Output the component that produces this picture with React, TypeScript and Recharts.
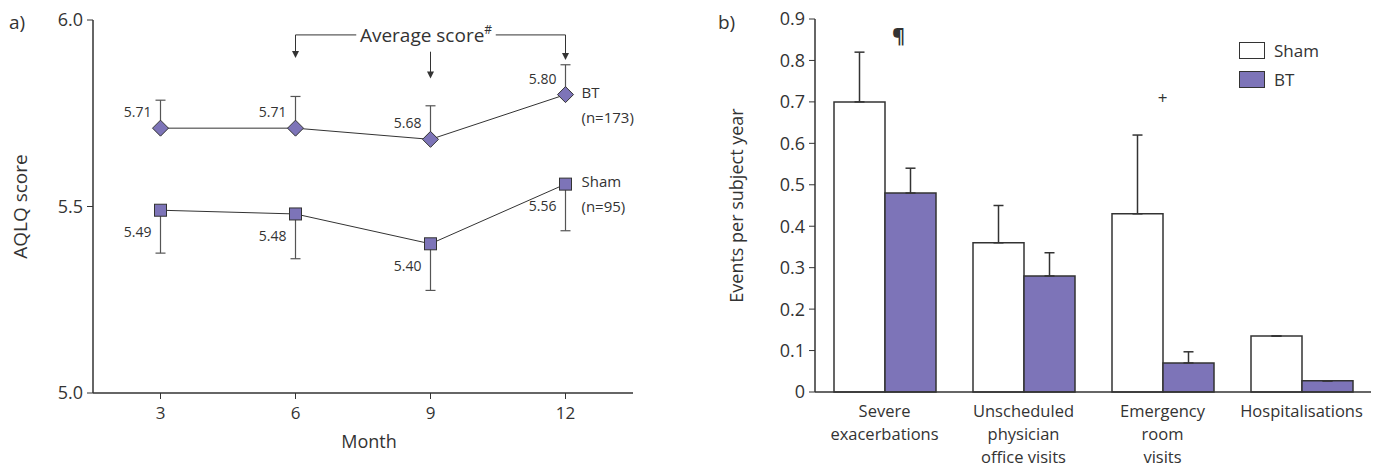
import React from 'react';
import {
  ComposedChart,
  BarChart,
  Line,
  Bar,
  XAxis,
  YAxis,
  ErrorBar,
  LabelList,
  Legend,
  ReferenceLine,
  ReferenceDot,
} from 'recharts';

// panel a) AQLQ score by month
const months = [3, 6, 9, 12];
const btScores = [5.71, 5.71, 5.68, 5.8];
const btErrUp = [0.075, 0.085, 0.09, 0.08];
const shamScores = [5.49, 5.48, 5.4, 5.56];
const shamErrDown = [0.115, 0.12, 0.125, 0.125];
const scoreTicks = [5, 5.5, 6];

// panel b) events per subject year
const categories = ['Severe exacerbations', 'Unscheduled physician office visits', 'Emergency room visits', 'Hospitalisations'];
const categoryLines = [['Severe', 'exacerbations'], ['Unscheduled', 'physician', 'office visits'], ['Emergency', 'room', 'visits'], ['Hospitalisations']];
const shamRates = [0.7, 0.36, 0.43, 0.135];
const shamRateErr = [0.12, 0.09, 0.19, 0];
const btRates = [0.48, 0.28, 0.07, 0.027];
const btRateErr = [0.06, 0.056, 0.027, 0];
const rateTicks = [0, 0.1, 0.2, 0.3, 0.4, 0.5, 0.6, 0.7, 0.8, 0.9];

const PURPLE = '#7d74b8';
const INK = '#333';
const FONT = '"Open Sans", sans-serif';

const lineData = months.map((m, i) => ({
  month: m,
  bt: btScores[i],
  btErr: [0, btErrUp[i]],
  sham: shamScores[i],
  shamErr: [shamErrDown[i], 0],
}));

const barData = categories.map((c, i) => ({
  cat: c,
  sham: shamRates[i],
  shamErr: [0, shamRateErr[i]],
  bt: btRates[i],
  btErr: [0, btRateErr[i]],
}));

const Diamond = (p: any) => {
  const { cx, cy } = p;
  if (cx == null || cy == null) return null;
  return (
    <path
      key={`d-${p.index}`}
      d={`M${cx},${cy - 8}L${cx + 8},${cy}L${cx},${cy + 8}L${cx - 8},${cy}Z`}
      fill={PURPLE}
      stroke={INK}
      strokeWidth={1}
    />
  );
};

const Square = (p: any) => {
  const { cx, cy } = p;
  if (cx == null || cy == null) return null;
  return <rect key={`s-${p.index}`} x={cx - 6} y={cy - 6} width={12} height={12} fill={PURPLE} stroke={INK} strokeWidth={1} />;
};

const ArrowHead = (p: any) => (
  <path d={`M${p.cx - 3.5},${p.cy - 7}L${p.cx + 3.5},${p.cy - 7}L${p.cx},${p.cy}Z`} fill={INK} />
);

const valueLabel = (below: boolean) => (p: any) => {
  const { x, y, value } = p;
  return (
    <text x={x - 9} y={below ? y + 27 : y - 11} textAnchor="end" fontSize={14} fill={INK} fontFamily={FONT}>
      {Number(value).toFixed(2)}
    </text>
  );
};

const seriesLabel = (name: string, n: string) => (p: any) => {
  if (p.index !== months.length - 1) return null;
  return (
    <text x={p.x + 16} y={p.y - 2} fontSize={15} fill={INK} fontFamily={FONT}>
      <tspan x={p.x + 16} dy="0.35em">{name}</tspan>
      <tspan x={p.x + 16} dy={25}>{n}</tspan>
    </text>
  );
};

const CategoryTick = (p: any) => {
  const lines = categoryLines[p.index] || [p.payload.value];
  return (
    <text x={p.x} y={p.y} textAnchor="middle" fontSize={16.5} fill={INK} fontFamily={FONT}>
      {lines.map((l, i) => (
        <tspan key={i} x={p.x} dy={i === 0 ? 17 : 23}>{l}</tspan>
      ))}
    </text>
  );
};

const LegendBox = () => (
  <div style={{ fontFamily: FONT, fontSize: 17, color: INK }}>
    {[['Sham', '#fff'], ['BT', PURPLE]].map(([name, fill]) => (
      <div key={name} style={{ display: 'flex', alignItems: 'center', height: 29 }}>
        <span style={{ display: 'inline-block', width: 24, height: 15, background: fill, border: `1.5px solid ${INK}`, marginRight: 9 }} />
        {name}
      </div>
    ))}
  </div>
);

export default function App() {
  return (
    <div style={{ position: 'absolute', left: 0, top: 0, width: 1375, height: 470, background: '#fff', fontFamily: FONT }}>
      <span style={{ position: 'absolute', left: 9, top: 9, fontSize: 19, color: INK }}>a)</span>
      <span style={{ position: 'absolute', left: 718, top: 9, fontSize: 19, color: INK }}>b)</span>

      <div style={{ position: 'absolute', left: 0, top: 0 }}>
        <ComposedChart width={680} height={470} data={lineData} margin={{ top: 20, right: 47, bottom: 22, left: 0 }}>
          <XAxis
            type="number"
            dataKey="month"
            domain={[1.5, 13.5]}
            ticks={months}
            allowDataOverflow
            height={55}
            tickSize={6}
            tickMargin={8}
            stroke={INK}
            axisLine={{ stroke: INK, strokeWidth: 1.5 }}
            tick={{ fill: INK, fontSize: 17 }}
            label={{ value: 'Month', position: 'insideBottom', offset: 0, dx: 6, fill: INK, fontSize: 18 }}
          />
          <YAxis
            type="number"
            domain={[5, 6]}
            ticks={scoreTicks}
            width={93}
            tickSize={6}
            tickMargin={4}
            stroke={INK}
            axisLine={{ stroke: INK, strokeWidth: 1.5 }}
            tick={{ fill: INK, fontSize: 18 }}
            tickFormatter={(v: number) => v.toFixed(1)}
            label={{ value: 'AQLQ score', angle: -90, position: 'insideLeft', offset: 20, fill: INK, fontSize: 19, style: { textAnchor: 'middle' } }}
          />

          <ReferenceLine segment={[{ x: 6, y: 5.96 }, { x: 7.35, y: 5.96 }]} stroke={INK} strokeWidth={1} />
          <ReferenceLine segment={[{ x: 10.45, y: 5.96 }, { x: 12, y: 5.96 }]} stroke={INK} strokeWidth={1} />
          <ReferenceLine segment={[{ x: 6, y: 5.96 }, { x: 6, y: 5.905 }]} stroke={INK} strokeWidth={1} />
          <ReferenceLine segment={[{ x: 9, y: 5.915 }, { x: 9, y: 5.85 }]} stroke={INK} strokeWidth={1} />
          <ReferenceLine segment={[{ x: 12, y: 5.96 }, { x: 12, y: 5.9 }]} stroke={INK} strokeWidth={1} />
          <ReferenceDot x={6} y={5.898} r={0} shape={ArrowHead} />
          <ReferenceDot x={9} y={5.843} r={0} shape={ArrowHead} />
          <ReferenceDot x={12} y={5.893} r={0} shape={ArrowHead} />
          <ReferenceDot
            x={8.9}
            y={5.96}
            r={0}
            shape={(p: any) => (
              <text x={p.cx} y={p.cy} dy="0.35em" textAnchor="middle" fontSize={19} fill={INK} fontFamily={FONT}>
                Average score<tspan fontSize={12} dy={-8}>#</tspan>
              </text>
            )}
          />

          <Line dataKey="bt" stroke={INK} strokeWidth={1} dot={Diamond} activeDot={false} isAnimationActive={false}>
            <ErrorBar dataKey="btErr" direction="y" width={5} stroke="#555" strokeWidth={1.2} />
            <LabelList dataKey="bt" content={valueLabel(false)} />
            <LabelList dataKey="bt" content={seriesLabel('BT', '(n=173)')} />
          </Line>
          <Line dataKey="sham" stroke={INK} strokeWidth={1} dot={Square} activeDot={false} isAnimationActive={false}>
            <ErrorBar dataKey="shamErr" direction="y" width={5} stroke="#555" strokeWidth={1.2} />
            <LabelList dataKey="sham" content={valueLabel(true)} />
            <LabelList dataKey="sham" content={seriesLabel('Sham', '(n=95)')} />
          </Line>
        </ComposedChart>
      </div>

      <div style={{ position: 'absolute', left: 690, top: 0 }}>
        <BarChart width={685} height={470} data={barData} margin={{ top: 19, right: 4, bottom: 8, left: 0 }} barGap={0} barSize={51}>
          <XAxis
            dataKey="cat"
            height={70}
            tickLine={false}
            axisLine={{ stroke: INK, strokeWidth: 1.5 }}
            tick={CategoryTick}
            interval={0}
          />
          <YAxis
            type="number"
            domain={[0, 0.9]}
            ticks={rateTicks}
            width={125}
            tickSize={6}
            tickMargin={4}
            stroke={INK}
            axisLine={{ stroke: INK, strokeWidth: 1.5 }}
            tick={{ fill: INK, fontSize: 18 }}
            tickFormatter={(v: number) => (v === 0 ? '0' : v.toFixed(1))}
            label={{ value: 'Events per subject year', angle: -90, position: 'insideLeft', offset: 47, fill: INK, fontSize: 18, style: { textAnchor: 'middle' } }}
          />
          <Legend content={LegendBox} layout="horizontal" verticalAlign="middle" align="center" wrapperStyle={{ top: 36, left: 549, width: 120, height: 60 }} />
          <Bar dataKey="sham" name="Sham" fill="#fff" stroke={INK} strokeWidth={1.5} isAnimationActive={false}>
            <ErrorBar dataKey="shamErr" direction="y" width={5} stroke={INK} strokeWidth={1.5} />
          </Bar>
          <Bar dataKey="bt" name="BT" fill={PURPLE} stroke={INK} strokeWidth={1.5} isAnimationActive={false}>
            <ErrorBar dataKey="btErr" direction="y" width={5} stroke={INK} strokeWidth={1.5} />
          </Bar>
          <ReferenceDot x={categories[0]} y={0.86} r={0} label={{ value: '¶', fontSize: 20, fill: INK, dx: 14, fontWeight: 700 }} />
          <ReferenceDot x={categories[2]} y={0.71} r={0} label={{ value: '+', fontSize: 17, fill: INK }} />
        </BarChart>
      </div>
    </div>
  );
}
